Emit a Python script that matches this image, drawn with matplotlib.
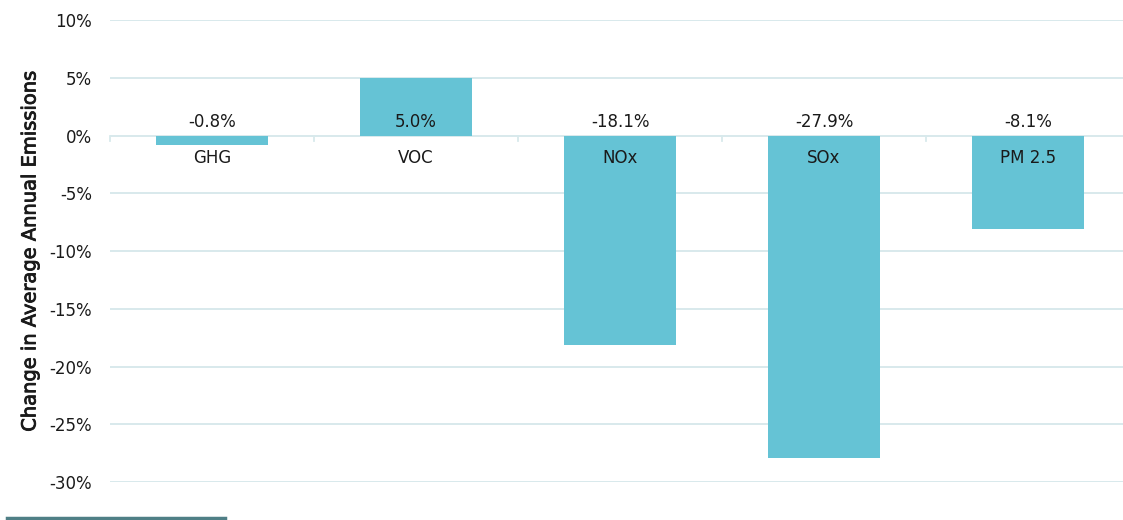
import matplotlib
matplotlib.use("Agg")
import matplotlib.pyplot as plt
from matplotlib.ticker import FuncFormatter
from matplotlib.lines import Line2D
import matplotlib.patheffects as pe

categories = ["GHG", "VOC", "NOx", "SOx", "PM 2.5"]
values = [-0.8, 5.0, -18.1, -27.9, -8.1]
value_labels = ["-0.8%", "5.0%", "-18.1%", "-27.9%", "-8.1%"]
y_ticks = [-30, -25, -20, -15, -10, -5, 0, 5, 10]

plt.rcParams['font.family'] = ['DejaVu Sans']

W, H = 1123, 520
fig = plt.figure(figsize=(W / 100, H / 100), dpi=100)
ax = fig.add_axes([110 / W, 38 / H, 1020 / W, 462 / H])

bar_color = "#65C3D5"
grid_color = "#D8E9EC"
text_color = "#1A1A1A"

x = list(range(len(categories)))
ax.bar(x, values, width=0.55, color=bar_color, zorder=2)

ax.set_xlim(-0.5, len(categories) - 0.5)
ax.set_ylim(-30, 10)
ax.set_yticks(y_ticks)
ax.yaxis.set_major_formatter(FuncFormatter(lambda v, p: f"{int(v)}%"))
ax.grid(axis="y", color=grid_color, linewidth=1.4, zorder=0)
ax.set_axisbelow(True)
for s in ax.spines.values():
    s.set_visible(False)
ax.tick_params(axis="y", length=0, pad=13, labelsize=12, labelcolor=text_color)
ax.set_xticks([])

# small category boundary ticks below the zero line
for b in [i - 0.5 for i in range(len(categories) + 1)]:
    ax.plot([b, b], [0, -0.45], color=grid_color, linewidth=1.3, zorder=1, clip_on=False)

for xi, cat, lab in zip(x, categories, value_labels):
    ax.text(xi, 1.2, lab, ha="center", va="center", fontsize=12, color=text_color, zorder=3)
    ax.text(xi, -1.95, cat, ha="center", va="center", fontsize=12, color=text_color, zorder=3)

fig.text(30 / W, 1 - 251 / H, "Change in Average Annual Emissions", rotation=90,
         ha="center", va="center", fontsize=14, color=text_color,
         path_effects=[pe.withStroke(linewidth=0.6, foreground=text_color)])

# decorative line at bottom left
fig.add_artist(Line2D([7 / W, 225 / W], [1 - 518 / H, 1 - 518 / H], color="#4F7F86",
                      linewidth=2.5, transform=fig.transFigure))

fig.savefig("out.png", dpi=100)
